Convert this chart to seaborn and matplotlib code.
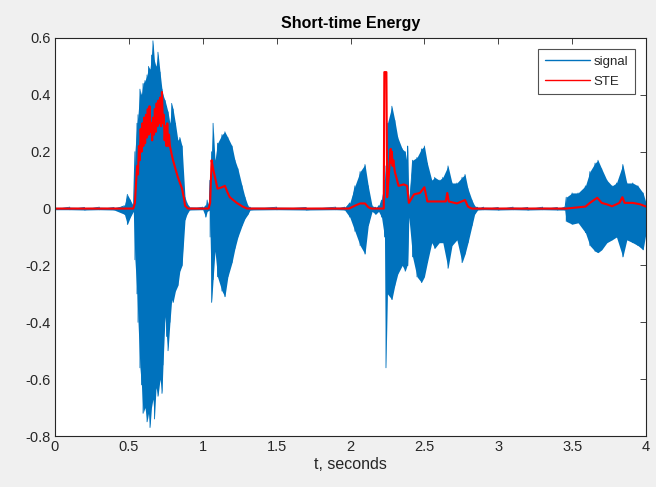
import numpy as np
import pandas as pd
import matplotlib
matplotlib.use("Agg")
import matplotlib.pyplot as plt
import seaborn as sns

# ---- data ----
# signal envelope: time (s), upper and lower extremes
sig_t = [0.00, 0.10, 0.20, 0.30, 0.40, 0.47, 0.49, 0.51, 0.53,
         0.541, 0.555, 0.562, 0.575, 0.585, 0.596, 0.609, 0.623, 0.633, 0.643,
         0.653, 0.663, 0.673, 0.684, 0.697, 0.711, 0.724, 0.731, 0.745, 0.755,
         0.765, 0.778, 0.790, 0.799, 0.815, 0.832, 0.845, 0.860, 0.880, 0.893,
         0.91, 1.00, 1.02, 1.03, 1.045,
         1.05, 1.06, 1.07, 1.083, 1.10, 1.13, 1.15, 1.17, 1.198, 1.218, 1.238,
         1.266, 1.286, 1.306, 1.32, 1.50, 1.70, 1.90,
         1.96, 1.995, 2.03, 2.065, 2.098, 2.12, 2.146, 2.17, 2.19,
         2.21, 2.23, 2.24, 2.25, 2.28, 2.30, 2.32, 2.35, 2.37, 2.383, 2.387,
         2.395, 2.42, 2.45, 2.48, 2.50, 2.52, 2.55, 2.57, 2.60, 2.625, 2.66,
         2.687, 2.72, 2.755, 2.775, 2.795, 2.822, 2.84, 2.86,
         2.90, 3.00, 3.10, 3.20, 3.30, 3.40,
         3.45, 3.46, 3.50, 3.54, 3.59, 3.62, 3.655, 3.675, 3.70, 3.735, 3.77,
         3.80, 3.843, 3.87, 3.91, 3.945, 3.98, 4.00]
sig_hi = [0.004, 0.005, 0.004, 0.005, 0.004, 0.01, 0.05, 0.03, 0.01,
          0.20, 0.30, 0.33, 0.42, 0.40, 0.44, 0.45, 0.47, 0.50, 0.49,
          0.54, 0.59, 0.52, 0.50, 0.55, 0.48, 0.42, 0.40, 0.38, 0.36,
          0.34, 0.30, 0.37, 0.35, 0.30, 0.24, 0.25, 0.22, 0.04, 0.02,
          0.006, 0.005, 0.01, 0.03, 0.005,
          0.10, 0.20, 0.30, 0.17, 0.23, 0.26, 0.27, 0.25, 0.22, 0.17, 0.14,
          0.08, 0.04, 0.01, 0.005, 0.005, 0.004, 0.005,
          0.005, 0.02, 0.08, 0.13, 0.155, 0.08, 0.01, 0.005, 0.01,
          0.03, 0.10, 0.15, 0.30, 0.36, 0.31, 0.25, 0.21, 0.20, 0.16, 0.22,
          0.03, 0.17, 0.18, 0.21, 0.22, 0.16, 0.10, 0.11, 0.10, 0.11, 0.15,
          0.09, 0.09, 0.11, 0.12, 0.07, 0.03, 0.01, 0.005,
          0.005, 0.004, 0.005, 0.004, 0.005, 0.004,
          0.005, 0.04, 0.055, 0.055, 0.08, 0.13, 0.16, 0.17, 0.14, 0.10, 0.08,
          0.09, 0.155, 0.09, 0.09, 0.08, 0.055, 0.02]
sig_lo = [-0.004, -0.004, -0.005, -0.004, -0.005, -0.02, -0.056, -0.03, -0.01,
          -0.18, -0.30, -0.40, -0.56, -0.62, -0.72, -0.70, -0.75, -0.72, -0.77,
          -0.70, -0.67, -0.74, -0.63, -0.66, -0.60, -0.65, -0.55, -0.38, -0.45,
          -0.50, -0.40, -0.32, -0.33, -0.29, -0.27, -0.22, -0.20, -0.04, -0.02,
          -0.005, -0.004, -0.03, -0.01, -0.005,
          -0.10, -0.33, -0.25, -0.15, -0.24, -0.29, -0.31, -0.24, -0.19, -0.14, -0.10,
          -0.06, -0.035, -0.02, -0.005, -0.004, -0.005, -0.004,
          -0.005, -0.03, -0.08, -0.13, -0.16, -0.06, -0.01, -0.02, -0.01,
          -0.03, -0.10, -0.56, -0.30, -0.32, -0.27, -0.23, -0.20, -0.22, -0.20, -0.20,
          -0.03, -0.17, -0.24, -0.26, -0.24, -0.19, -0.12, -0.14, -0.12, -0.12, -0.21,
          -0.13, -0.11, -0.19, -0.16, -0.12, -0.06, -0.02, -0.005,
          -0.004, -0.005, -0.004, -0.005, -0.004, -0.005,
          -0.005, -0.045, -0.055, -0.05, -0.085, -0.13, -0.15, -0.155, -0.145, -0.12, -0.11,
          -0.10, -0.17, -0.11, -0.12, -0.13, -0.145, -0.085]

# short-time energy curve (dense, fluctuating band in the first word)
ste_t = [0.00, 0.53, 0.541, 0.550, 0.556, 0.562, 0.568, 0.574, 0.580, 0.586,
         0.592, 0.598, 0.604, 0.610, 0.616, 0.622, 0.628, 0.634, 0.640, 0.646,
         0.652, 0.658, 0.664, 0.670, 0.676, 0.682, 0.688, 0.694, 0.700, 0.706,
         0.712, 0.718, 0.724, 0.730, 0.736, 0.742, 0.748, 0.754, 0.760, 0.766,
         0.772, 0.778, 0.79, 0.799, 0.815, 0.832, 0.860, 0.875, 0.880, 0.90,
         1.04, 1.05, 1.06, 1.07, 1.083, 1.10, 1.13, 1.15, 1.165, 1.183, 1.23,
         1.27, 1.30, 1.99, 2.03, 2.065, 2.098, 2.12, 2.14,
         2.225, 2.229, 2.243, 2.248, 2.26, 2.266, 2.272, 2.277, 2.28, 2.285,
         2.29, 2.30, 2.325, 2.36,
         2.383, 2.395, 2.43, 2.47, 2.50, 2.52, 2.58, 2.645, 2.655, 2.665, 2.72,
         2.775, 2.795, 2.82, 3.46, 3.59, 3.62, 3.67, 3.70, 3.74, 3.77, 3.82,
         3.84, 3.855, 3.91, 3.96, 4.00]
ste_v = [0.0, 0.0, 0.02, 0.10, 0.15, 0.12, 0.22, 0.17, 0.28, 0.20,
         0.30, 0.22, 0.32, 0.23, 0.33, 0.25, 0.35, 0.26, 0.36, 0.27,
         0.30, 0.24, 0.32, 0.26, 0.35, 0.27, 0.37, 0.29, 0.38, 0.30,
         0.39, 0.29, 0.41, 0.30, 0.33, 0.24, 0.29, 0.22, 0.30, 0.22,
         0.26, 0.22, 0.19, 0.17, 0.14, 0.11, 0.07, 0.03, 0.01, 0.0,
         0.0, 0.02, 0.17, 0.14, 0.11, 0.07, 0.075, 0.08, 0.06, 0.04, 0.02,
         0.007, 0.0, 0.0, 0.01, 0.018, 0.018, 0.005, 0.0,
         0.0, 0.48, 0.48, 0.04, 0.12, 0.17, 0.21, 0.16, 0.20, 0.15,
         0.17, 0.13, 0.08, 0.085,
         0.08, 0.02, 0.05, 0.055, 0.075, 0.025, 0.025, 0.025, 0.055, 0.025, 0.018,
         0.03, 0.007, 0.0, 0.0, 0.007, 0.02, 0.038, 0.02, 0.014, 0.008, 0.02,
         0.04, 0.02, 0.02, 0.015, 0.007]

x_ticks = [0, 0.5, 1, 1.5, 2, 2.5, 3, 3.5, 4]
x_labels = ["0", "0.5", "1", "1.5", "2", "2.5", "3", "3.5", "4"]
y_ticks = [-0.8, -0.6, -0.4, -0.2, 0, 0.2, 0.4, 0.6]
y_labels = ["-0.8", "-0.6", "-0.4", "-0.2", "0", "0.2", "0.4", "0.6"]

BLUE = "#0072BD"
RED = "#FF0000"

sns.set_theme(style="white")
plt.rcParams['font.family'] = ['Liberation Sans', 'DejaVu Sans']

fig = plt.figure(figsize=(6.56, 4.87), dpi=100, facecolor="#f0f0f0")
ax = fig.add_axes([0.0838, 0.1047, 0.9010, 0.8173])
ax.set_facecolor("white")

# zigzag through the read envelope extremes
zz_t, zz_v = [], []
for t, h, l in zip(sig_t, sig_hi, sig_lo):
    zz_t += [t, t]
    zz_v += [h, l]
df_sig = pd.DataFrame({"t": zz_t, "v": zz_v})
df_ste = pd.DataFrame({"t": ste_t, "v": ste_v})

ax.fill_between(sig_t, sig_lo, sig_hi, color=BLUE, lw=0)
sns.lineplot(data=df_sig, x="t", y="v", sort=False, estimator=None,
             color=BLUE, lw=0.6, ax=ax, label="signal")
sns.lineplot(data=df_ste, x="t", y="v", sort=False, estimator=None,
             color=RED, lw=1.5, ax=ax, label="STE")

ax.set_xlim(0, 4)
ax.set_ylim(-0.8, 0.6)
ax.set_xticks(x_ticks)
ax.set_xticklabels(x_labels)
ax.set_yticks(y_ticks)
ax.set_yticklabels(y_labels)
ax.tick_params(direction="in", length=4, width=0.6, top=True, right=True,
               labelsize=10.5, colors="#262626", pad=3)
for s in ax.spines.values():
    s.set_visible(True)
    s.set_color("#262626")
    s.set_linewidth(0.8)
ax.set_xlabel("t, seconds", fontsize=11.5, color="#262626", labelpad=2)
ax.set_ylabel("")
ax.set_title("Short-time Energy", fontsize=11.5, fontweight="bold", color="#000000", pad=7)

leg = ax.legend(loc="upper right", fontsize=9.5, frameon=True, fancybox=False,
                edgecolor="#262626", handlelength=3.4, borderpad=0.5,
                labelspacing=0.55, handletextpad=0.3, borderaxespad=0.85)
leg.get_frame().set_linewidth(0.8)
for line in leg.get_lines():
    line.set_linewidth(1.0)

fig.savefig("out.png", dpi=100, facecolor=fig.get_facecolor())
